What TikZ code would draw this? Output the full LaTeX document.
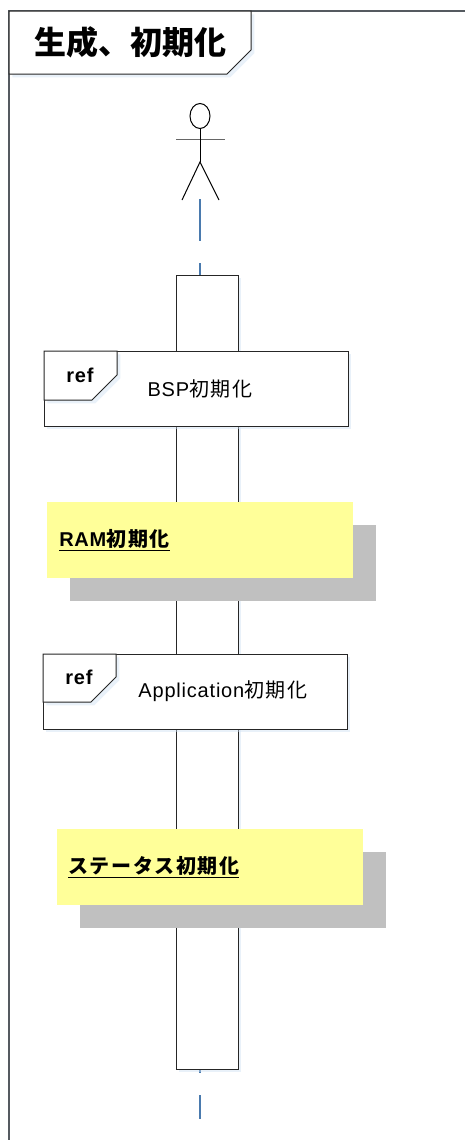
\documentclass[tikz,border=0pt]{standalone}
\usepackage{fontspec}
\setmainfont{Liberation Sans}[LetterSpace=4]
\newfontfamily\cjk{Noto Sans CJK JP}
\newfontfamily\cjkwide{Noto Sans CJK JP}[LetterSpace=8]
\usetikzlibrary{shadows, shapes.geometric}

\definecolor{lifeblue}{HTML}{4A7AAE}
\definecolor{glow}{HTML}{CFE0F2}
\definecolor{noteyellow}{HTML}{FFFF99}
\definecolor{noteshadow}{HTML}{C0C0C0}
\definecolor{framegray}{HTML}{555A60}

\tikzset{
    glowshadow/.style = {drop shadow = {shadow xshift=2.5pt, shadow yshift=-2.5pt, fill=glow, opacity=0.45}},
    boxbase/.style = {draw=black!85, fill=white, line width=0.75pt, inner sep=0pt, outer sep=0pt, anchor=north west},
    execbox/.style = {boxbase, glowshadow, minimum width=46.5pt, minimum height=595.5pt},
    refbox/.style = {boxbase, glowshadow, minimum width=228pt, minimum height=56.25pt},
    tabline/.style = {draw=black!85, fill=white, line width=0.75pt, glowshadow},
    notebox/.style = {fill=noteyellow, inner sep=0pt, outer sep=0pt, anchor=north west,
        minimum width=229.5pt, minimum height=57pt,
        drop shadow = {shadow xshift=17.25pt, shadow yshift=-17.25pt, fill=noteshadow, opacity=1}},
    notetext/.style = {anchor=west, inner sep=0pt, font=\fontsize{15}{18}\selectfont\bfseries},
    reftext/.style = {inner sep=0pt, font=\fontsize{15}{18}\selectfont},
    limb/.style = {draw=black, line width=0.75pt},
    lifeline/.style = {draw=lifeblue, line width=2pt, dash pattern=on 31.5pt off 16.5pt}
}

\begin{document}
\begin{tikzpicture} [x=0.75pt, y=-0.75pt]
        \useasboundingbox (0,0) rectangle (465,1140);

        % frame
        \coordinate (framebot) at (9,1140);
        \coordinate (framecorner) at (9,11);
        \coordinate (frameright) at (465,11);
        \draw [framegray, line width=0.9pt] (framebot) -- (framecorner) -- (frameright);
        \path [tabline] (9,11) -- (251,11) -- (251,50) -- (227,74) -- (9,74) -- cycle;
        \node (title) [inner sep=0pt, font=\fontsize{24}{28}\selectfont\bfseries] at (130.5,42) {\cjk 生成、初期化};

        % lifeline
        \coordinate (lifetop) at (200,199);
        \coordinate (lifebot) at (200,1119);
        \draw [lifeline] (lifetop) -- (lifebot);

        % actor
        \node (head) [draw, ellipse, line width=0.75pt, inner sep=0pt, minimum width=15pt, minimum height=18.75pt] at (200,116) {};
        \coordinate (armL) at (176,139.5);
        \coordinate (armR) at (225,139.5);
        \coordinate (waist) at (200,162);
        \coordinate (footL) at (182,200);
        \coordinate (footR) at (219,200);
        \draw [black!60, line width=0.75pt] (armL) -- (armR);
        \draw [limb] (head) -- (waist);
        \draw [limb] (footL) -- (waist) -- (footR);

        \node (exec) [execbox] at (176,275) {};

        % BSP
        \node (bsp) [refbox] at (44,351) {};
        \path [tabline] (44,351) -- (117,351) -- (117,375) -- (92,400) -- (44,400) -- cycle;
        \node (bspref) [reftext, font=\fontsize{15}{18}\selectfont\bfseries] at (80,375) {ref};
        \node (bsptext) [reftext] at (200,389) {BSP{\cjkwide 初期化}};

        % RAM
        \node (ram) [notebox] at (47,502) {};
        \node (ramtext) [notetext] at (59,540) {\underline{RAM{\cjkwide 初期化}}};

        % Application
        \node (app) [refbox] at (43,654) {};
        \path [tabline] (43,654) -- (116,654) -- (116,677) -- (91,702) -- (43,702) -- cycle;
        \node (appref) [reftext, font=\fontsize{15}{18}\selectfont\bfseries] at (79,677) {ref};
        \node (apptext) [reftext] at (223,691) {Application{\cjkwide 初期化}};

        % status
        \node (status) [notebox] at (57,829) {};
        \node (statustext) [notetext] at (68,867) {\underline{\cjkwide ステータス初期化}};
    \end{tikzpicture}
\end{document}
